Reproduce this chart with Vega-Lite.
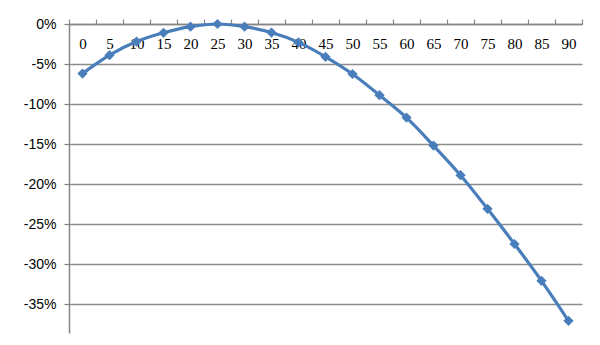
{
  "$schema": "https://vega.github.io/schema/vega-lite/v6.json",
  "width": 513,
  "height": 309,
  "autosize": "none",
  "padding": {"left": 69, "top": 24, "right": 18, "bottom": 12},
  "background": "white",
  "config": {"view": {"stroke": null}},
  "data": {
    "values": [
      {"angle": 0, "change": -0.062},
      {"angle": 5, "change": -0.039},
      {"angle": 10, "change": -0.022},
      {"angle": 15, "change": -0.011},
      {"angle": 20, "change": -0.0033},
      {"angle": 25, "change": 0.0},
      {"angle": 30, "change": -0.0033},
      {"angle": 35, "change": -0.0107},
      {"angle": 40, "change": -0.023},
      {"angle": 45, "change": -0.041},
      {"angle": 50, "change": -0.0625},
      {"angle": 55, "change": -0.089},
      {"angle": 60, "change": -0.117},
      {"angle": 65, "change": -0.152},
      {"angle": 70, "change": -0.189},
      {"angle": 75, "change": -0.231},
      {"angle": 80, "change": -0.275},
      {"angle": 85, "change": -0.321},
      {"angle": 90, "change": -0.371}
    ]
  },
  "encoding": {
    "x": {
      "field": "angle",
      "type": "ordinal",
      "sort": "ascending",
      "scale": {"paddingInner": 0, "paddingOuter": 0},
      "axis": {
        "orient": "top",
        "title": null,
        "labelAngle": 0,
        "tickBand": "extent",
        "tickSize": 5,
        "tickColor": "#868686",
        "tickWidth": 1.2,
        "domainColor": "#868686",
        "domainWidth": 1.5,
        "labelBaseline": "middle",
        "labelPadding": -24,
        "labelFont": "Liberation Serif",
        "labelFontSize": 15,
        "labelColor": "#000000",
        "grid": false
      }
    },
    "y": {
      "field": "change",
      "type": "quantitative",
      "scale": {"domain": [-0.38625, 0], "nice": false, "zero": false},
      "axis": {
        "title": null,
        "values": [0, -0.05, -0.1, -0.15, -0.2, -0.25, -0.3, -0.35],
        "format": ".0%",
        "labelExpr": "replace(datum.label, '−', '-')",
        "labelFont": "Liberation Sans",
        "labelFontSize": 14,
        "labelColor": "#000000",
        "labelPadding": 8,
        "tickSize": 5,
        "tickColor": "#868686",
        "tickWidth": 1.2,
        "domainColor": "#868686",
        "domainWidth": 1.5,
        "grid": true,
        "gridColor": "#8c8c8c",
        "gridWidth": 1.3
      }
    }
  },
  "layer": [
    {
      "mark": {"type": "line", "interpolate": "monotone", "color": "#4a7ebb", "strokeWidth": 3.2}
    },
    {
      "mark": {"type": "point", "shape": "diamond", "filled": true, "opacity": 1, "color": "#4a7ebb", "size": 105}
    }
  ]
}
